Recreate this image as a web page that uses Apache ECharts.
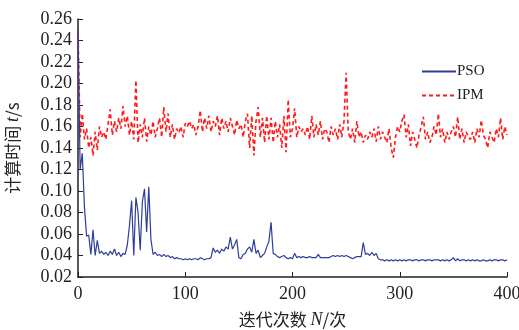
<!DOCTYPE html>
<html><head><meta charset="utf-8">
<script src="https://cdn.jsdelivr.net/npm/echarts@6/dist/echarts.min.js"></script>
<style>html,body{margin:0;padding:0;background:#fff}#c{width:519px;height:330px}</style>
</head><body><div id="c"></div>
<script>
// iteration step between stored samples is 2 (0,2,4,...,400)
const xTicks = [0, 100, 200, 300, 400];
const yTicks = [0.02,0.04,0.06,0.08,0.10,0.12,0.14,0.16,0.18,0.20,0.22,0.24,0.26];
const iterStep = 2;
const psoValues = [
0.250,0.120,0.135,0.085,0.058,0.059,0.041,0.064,0.040,0.054,
0.042,0.044,0.041,0.043,0.040,0.044,0.041,0.046,0.040,0.043,
0.039,0.042,0.041,0.050,0.068,0.091,0.040,0.094,0.080,0.045,
0.090,0.102,0.062,0.104,0.055,0.041,0.043,0.040,0.041,0.039,
0.041,0.039,0.040,0.038,0.039,0.037,0.038,0.037,0.037,0.036,
0.037,0.036,0.037,0.036,0.037,0.037,0.036,0.038,0.037,0.036,
0.037,0.037,0.038,0.047,0.043,0.045,0.042,0.046,0.044,0.048,
0.046,0.057,0.046,0.050,0.055,0.038,0.037,0.041,0.042,0.046,
0.048,0.043,0.055,0.042,0.045,0.038,0.040,0.042,0.048,0.053,
0.071,0.042,0.041,0.039,0.038,0.039,0.040,0.038,0.037,0.038,
0.037,0.042,0.038,0.039,0.038,0.039,0.038,0.038,0.039,0.038,
0.038,0.038,0.041,0.038,0.038,0.038,0.038,0.038,0.039,0.040,
0.039,0.040,0.039,0.040,0.039,0.040,0.039,0.038,0.037,0.038,
0.039,0.039,0.039,0.052,0.041,0.042,0.040,0.043,0.040,0.042,
0.037,0.036,0.036,0.035,0.036,0.035,0.036,0.035,0.036,0.035,
0.036,0.035,0.036,0.035,0.036,0.036,0.035,0.036,0.036,0.035,
0.036,0.036,0.035,0.036,0.036,0.035,0.036,0.036,0.036,0.035,
0.036,0.035,0.036,0.035,0.036,0.038,0.035,0.037,0.035,0.036,
0.036,0.035,0.036,0.035,0.036,0.035,0.036,0.035,0.035,0.036,
0.035,0.035,0.036,0.035,0.036,0.036,0.035,0.036,0.036,0.035,
0.036];
const ipmValues = [
0.250,0.150,0.172,0.148,0.158,0.140,0.150,0.133,0.155,0.138,
0.160,0.150,0.155,0.148,0.162,0.176,0.152,0.165,0.155,0.168,
0.158,0.179,0.160,0.170,0.152,0.165,0.148,0.203,0.145,0.162,
0.150,0.168,0.146,0.160,0.152,0.165,0.150,0.158,0.168,0.150,
0.178,0.155,0.172,0.150,0.162,0.148,0.158,0.154,0.160,0.150,
0.163,0.160,0.165,0.158,0.162,0.152,0.160,0.175,0.155,0.168,
0.158,0.170,0.155,0.165,0.160,0.170,0.152,0.168,0.158,0.165,
0.155,0.168,0.160,0.152,0.166,0.158,0.162,0.150,0.165,0.172,
0.140,0.170,0.133,0.165,0.178,0.150,0.168,0.145,0.170,0.148,
0.168,0.145,0.165,0.150,0.162,0.140,0.170,0.136,0.185,0.150,
0.158,0.177,0.150,0.160,0.155,0.158,0.152,0.160,0.148,0.170,
0.150,0.162,0.152,0.165,0.148,0.158,0.155,0.145,0.160,0.152,
0.158,0.148,0.162,0.150,0.165,0.210,0.155,0.148,0.158,0.145,
0.165,0.150,0.155,0.145,0.152,0.148,0.155,0.150,0.158,0.146,
0.160,0.148,0.155,0.150,0.145,0.158,0.140,0.131,0.150,0.160,
0.155,0.165,0.171,0.150,0.162,0.142,0.155,0.148,0.140,0.152,
0.160,0.169,0.148,0.155,0.145,0.150,0.160,0.152,0.172,0.150,
0.158,0.145,0.155,0.148,0.155,0.160,0.150,0.169,0.148,0.158,
0.145,0.155,0.150,0.148,0.155,0.145,0.158,0.150,0.166,0.152,
0.148,0.140,0.155,0.150,0.145,0.158,0.150,0.168,0.148,0.160,
0.152];

const toPairs = arr => arr.map((v, i) => [i * iterStep, v]);
const serif = '"Liberation Serif","Times New Roman",serif';
const cjk = '"Noto Sans CJK SC","Liberation Serif",sans-serif';

const chart = echarts.init(document.getElementById('c'), null, {renderer: 'canvas'});
chart.setOption({
  animation: false,
  backgroundColor: '#fff',
  grid: {left: 78, right: 12, top: 19, bottom: 53, containLabel: false, outerBoundsMode: 'none'},
  legend: {
    orient: 'vertical', left: 416, top: 59, itemWidth: 34, itemHeight: 10, itemGap: 9,
    itemStyle: {opacity: 0, borderWidth: 0},
    textStyle: {fontFamily: serif, fontSize: 15, color: '#222', padding: [0,0,0,-4]},
    data: ['PSO', 'IPM']
  },
  xAxis: {
    type: 'value', min: xTicks[0], max: xTicks[xTicks.length-1], interval: 100,
    name: '迭代次数 {i|N}/次', nameLocation: 'middle', nameGap: 34,
    nameTextStyle: {fontFamily: cjk, fontSize: 17, color: '#222',
      rich: {i: {fontFamily: serif, fontStyle: 'italic', fontSize: 18, color: '#222'}}},
    axisLine: {lineStyle: {color: '#222', width: 1.5}},
    axisTick: {inside: true, length: 5, lineStyle: {color: '#222'}},
    axisLabel: {fontFamily: serif, fontSize: 18, color: '#222', margin: 8},
    splitLine: {show: false}
  },
  yAxis: {
    type: 'value', min: yTicks[0], max: yTicks[yTicks.length-1], interval: 0.02,
    name: '计算时间 {i|t}/s', nameLocation: 'middle', nameGap: 56, nameRotate: 90,
    nameTextStyle: {fontFamily: cjk, fontSize: 17, color: '#222',
      rich: {i: {fontFamily: serif, fontStyle: 'italic', fontSize: 18, color: '#222'}}},
    axisLine: {show: true, lineStyle: {color: '#222', width: 1.5}},
    axisTick: {show: true, inside: true, length: 5, lineStyle: {color: '#222'}},
    axisLabel: {fontFamily: serif, fontSize: 18, color: '#222', margin: 6,
      formatter: v => v.toFixed(2)},
    splitLine: {show: false}
  },
  series: [
    {name: 'PSO', type: 'line', symbol: 'none', data: toPairs(psoValues),
     lineStyle: {color: '#2e3d9c', width: 1.2}, itemStyle: {color: '#2e3d9c'}, z: 3},
    {name: 'IPM', type: 'line', symbol: 'none', data: toPairs(ipmValues),
     lineStyle: {color: '#ff1a1a', width: 1.6, type: [4, 3]}, itemStyle: {color: '#ff1a1a'}, z: 2}
  ]
});
</script></body></html>
